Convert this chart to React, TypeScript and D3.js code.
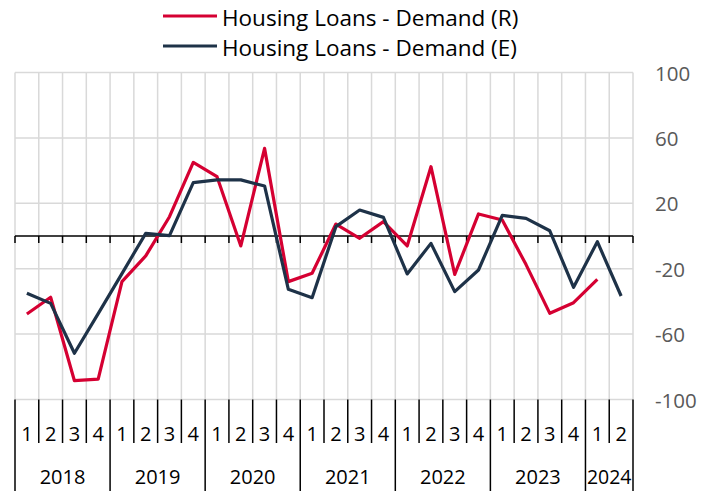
import React from "react";
import * as d3 from "d3";

const years = ["2018", "2019", "2020", "2021", "2022", "2023", "2024"];
const quartersPerYear = [4, 4, 4, 4, 4, 4, 2];
const seriesR: (number | null)[] = [
  -47.7, -37.5, -88.5, -87.5, -27.9, -12.2, 11.8, 45, 36.3, -6.1, 53.6, -27.9, -22.8,
  7.3, -1.4, 8.8, -6.1, 42.4, -23.5, 13.5, 9.8, -17.5, -47.3, -40.8, -26.5, null,
];
const seriesE: (number | null)[] = [
  -35, -41.2, -71.7, -47.5, -23, 1.6, 0.2, 32.6, 34.3, 34.3, 30.6, -32.6, -37.7,
  5.7, 15.9, 11.4, -23.2, -4.5, -34, -20.8, 12.6, 10.8, 3.2, -31.4, -3.5, -36.7,
];
const yTicks = [100, 60, 20, -20, -60, -100];
const legendLabels = ["Housing Loans - Demand (R)", "Housing Loans - Demand (E)"];
const colors = ["#d50032", "#1e3248"];

const W = 718;
const H = 491;
const left = 15;
const right = 633;
const top = 72.5;
const bottom = 399.5;
const font = "'Open Sans', 'Noto Sans', sans-serif";

export default function App() {
  const cats: { year: string; q: number; key: string }[] = [];
  years.forEach((y, i) => {
    for (let q = 1; q <= quartersPerYear[i]; q++) cats.push({ year: y, q, key: `${y}-${q}` });
  });
  const x = d3.scaleBand<string>().domain(cats.map((c) => c.key)).range([left, right]).padding(0);
  const y = d3.scaleLinear().domain([-100, 100]).range([bottom, top]);
  const bw = x.bandwidth();
  const boundaries = d3.range(cats.length + 1).map((i) => left + i * bw);

  const line = d3
    .line<number | null>()
    .defined((d) => d !== null)
    .x((_, i) => (x(cats[i].key) as number) + bw / 2)
    .y((d) => y(d as number));

  const yearStarts: number[] = [];
  let acc = 0;
  quartersPerYear.forEach((n) => {
    yearStarts.push(acc);
    acc += n;
  });
  const yearBoundaryIdx = new Set([...yearStarts, cats.length]);

  return (
    <svg width={W} height={H} style={{ position: "absolute", left: 0, top: 0, background: "#fff" }}>
      {boundaries.map((bx, i) => (
        <line key={"vg" + i} x1={bx} x2={bx} y1={top} y2={bottom} stroke="#d9d9d9" strokeWidth={1.5} />
      ))}
      {yTicks.map((t) => (
        <line key={"hg" + t} x1={left} x2={right} y1={y(t)} y2={y(t)} stroke="#d9d9d9" strokeWidth={1.5} />
      ))}
      <line x1={left} x2={right} y1={y(0)} y2={y(0)} stroke="#000" strokeWidth={1.5} />
      {boundaries.map((bx, i) => (
        <line key={"zt" + i} x1={bx} x2={bx} y1={y(0)} y2={y(0) + 7} stroke="#000" strokeWidth={1.5} />
      ))}
      {boundaries.map((bx, i) => (
        <line
          key={"ct" + i}
          x1={bx}
          x2={bx}
          y1={bottom}
          y2={yearBoundaryIdx.has(i) ? H : 443}
          stroke="#000"
          strokeWidth={1.5}
        />
      ))}
      {cats.map((c) => (
        <text
          key={"ql" + c.key}
          x={(x(c.key) as number) + bw / 2}
          y={433}
          textAnchor="middle"
          dominantBaseline="central"
          fontFamily={font}
          fontSize={20}
          fill="#000"
        >
          {c.q}
        </text>
      ))}
      {years.map((yr, i) => {
        const x0 = boundaries[yearStarts[i]];
        const x1 = boundaries[yearStarts[i] + quartersPerYear[i]];
        return (
          <text
            key={"yl" + yr}
            x={(x0 + x1) / 2}
            y={476}
            textAnchor="middle"
            dominantBaseline="central"
            fontFamily={font}
            fontSize={20}
            fill="#000"
            textLength={quartersPerYear[i] < 4 ? x1 - x0 - 3 : undefined}
            lengthAdjust="spacingAndGlyphs"
          >
            {yr}
          </text>
        );
      })}
      {yTicks.map((t) => (
        <text
          key={"yt" + t}
          x={655}
          y={y(t)}
          dominantBaseline="central"
          fontFamily={font}
          fontSize={20.5}
          fill="#595959"
        >
          {t}
        </text>
      ))}
      <path d={line(seriesR) || ""} fill="none" stroke={colors[0]} strokeWidth={3.2} strokeLinejoin="round" />
      <path d={line(seriesE) || ""} fill="none" stroke={colors[1]} strokeWidth={3.2} strokeLinejoin="round" />
      {legendLabels.map((l, i) => (
        <g key={"lg" + i}>
          <line x1={163} x2={217} y1={16 + i * 30} y2={16 + i * 30} stroke={colors[i]} strokeWidth={3.2} />
          <text x={222} y={17 + i * 30} dominantBaseline="central" fontFamily={font} fontSize={22.5} fill="#000">
            {l}
          </text>
        </g>
      ))}
    </svg>
  );
}
